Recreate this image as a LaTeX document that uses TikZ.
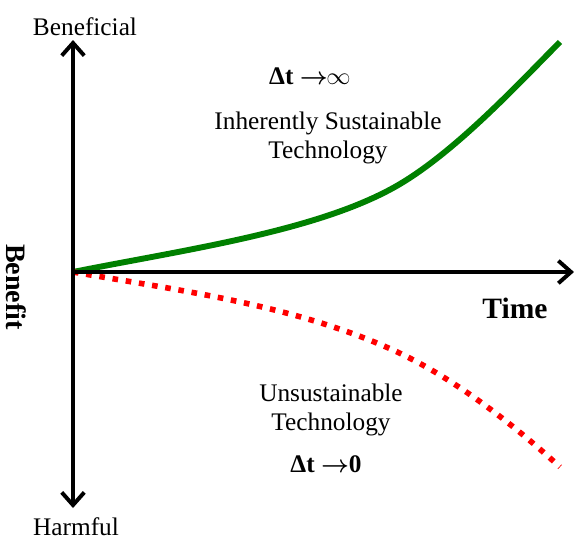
\documentclass[tikz,border=0pt]{standalone}
\usepackage{amsmath}
\usepackage{bm}
\usepackage{fontspec}
\setmainfont{Liberation Serif}
\usepackage{tikz}
\usetikzlibrary{arrows.meta}
\usepackage{color}
\definecolor{Sust-green}{RGB}{0,128,0}
\definecolor{Unsust-red}{RGB}{255,0,0}

\tikzset{
    lbl/.style={align=center, inner sep=0pt, font=\fontsize{18}{20.6}\selectfont},
    lblbf/.style={align=center, inner sep=0pt, font=\fontsize{20}{24}\selectfont\bfseries},
    axis/.style={line width=2.8pt, >={Straight Barb[length=9pt, width=16pt]}},
}

\begin{document}
\begin{tikzpicture}[x=0.025cm, y=-0.025cm]
    \useasboundingbox (0, 0) rectangle (574, 540);

    \coordinate (origin) at (73, 272);
    \coordinate (ax_top) at (73, 40);
    \coordinate (ax_bottom) at (73, 508);
    \coordinate (ax_right) at (574, 272);

    \node[lbl] (beneficial) at (85, 27) {Beneficial};
    \node[lbl] (harmful) at (76, 527) {Harmful};
    \node[lblbf, rotate=-90] (benefit) at (16, 287) {Benefit};
    \node[lblbf, font=\fontsize{21}{24}\selectfont\bfseries] (time) at (515, 308) {Time};

    \node[lbl] (dt_inf) at (310, 76) {\textbf{Δt} $\bm{\rightarrow}\!\!\infty$};
    \node[lbl] (sust) at (328, 138) {Inherently Sustainable\\Technology};
    \node[lbl] (unsust) at (331, 410) {Unsustainable\\Technology};
    \node[lbl] (dt_zero) at (326, 464) {\textbf{Δt} $\bm{\rightarrow}$\textbf{0}};

    % benefit curves
    \draw[Sust-green, line width=4.2pt] (origin) .. controls (183, 250) and (313, 232) .. (393, 188)
        .. controls (453, 155) and (520, 82) .. (560, 42);
    \draw[Unsust-red, line width=4pt, dash pattern=on 4pt off 5.5pt] (origin) .. controls (183, 291) and (293, 305) .. (393, 350)
        .. controls (448, 375) and (505, 417) .. (560, 467);

    \draw[axis, <->] (ax_bottom) -- (ax_top);
    \draw[axis, ->] (origin) -- (ax_right);
\end{tikzpicture}
\end{document}
